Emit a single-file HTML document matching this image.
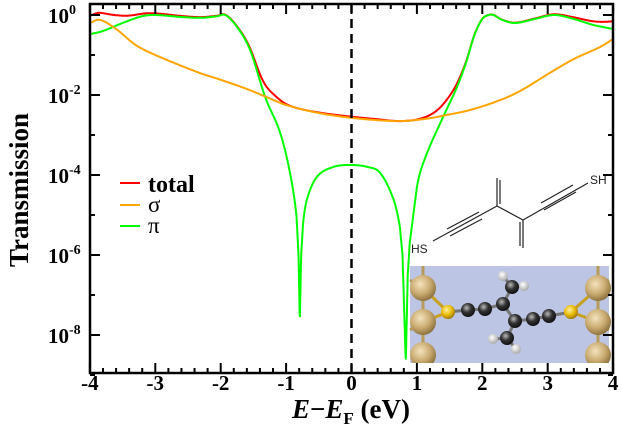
<!DOCTYPE html>
<html><head><meta charset="utf-8"><style>
html,body{margin:0;padding:0;background:#fff;}
svg{display:block;font-family:"Liberation Serif",serif;}
</style></head><body>
<svg id="s" width="621" height="440" viewBox="0 0 621 440" xmlns="http://www.w3.org/2000/svg">
<defs>
<radialGradient id="au" cx="40%" cy="35%" r="65%"><stop offset="0" stop-color="#f3e3bd"/><stop offset="0.6" stop-color="#c9aa70"/><stop offset="1" stop-color="#8f7440"/></radialGradient>
<radialGradient id="su" cx="40%" cy="35%" r="65%"><stop offset="0" stop-color="#fff2a0"/><stop offset="0.6" stop-color="#e7b800"/><stop offset="1" stop-color="#a07800"/></radialGradient>
<radialGradient id="cc" cx="40%" cy="35%" r="65%"><stop offset="0" stop-color="#bbb"/><stop offset="0.5" stop-color="#333"/><stop offset="1" stop-color="#111"/></radialGradient>
<radialGradient id="hh" cx="40%" cy="35%" r="65%"><stop offset="0" stop-color="#fff"/><stop offset="1" stop-color="#aaa"/></radialGradient>
</defs>
<g id="curves"></g>
<line x1="351.5" y1="4" x2="351.5" y2="373" stroke="#000" stroke-width="2.5" stroke-dasharray="9,6"/>
<rect x="410" y="266" width="199" height="97" fill="#bcc5e3"/>
<g stroke="#b89a5a" stroke-width="3">
<line x1="423" y1="266" x2="423" y2="363"/><line x1="598" y1="266" x2="598" y2="363"/>
<line x1="410" y1="280" x2="423" y2="288"/><line x1="410" y1="330" x2="423" y2="322"/>
<line x1="609" y1="280" x2="598" y2="288"/><line x1="609" y1="330" x2="598" y2="322"/>
</g>
<g stroke="#c8a020" stroke-width="3"><line x1="423" y1="288" x2="448" y2="312"/><line x1="423" y1="322" x2="448" y2="312"/><line x1="598" y1="288" x2="571" y2="312"/><line x1="598" y1="322" x2="571" y2="312"/></g>
<g stroke="#777" stroke-width="3"><polyline fill="none" points="448,312 468,310 485,309 503,304 515,321 533,319 549,316 571,312"/><line x1="503" y1="304" x2="512" y2="287"/><line x1="515" y1="321" x2="507" y2="338"/><line x1="512" y1="287" x2="503" y2="276"/><line x1="512" y1="287" x2="524" y2="286"/><line x1="507" y1="338" x2="493" y2="339"/><line x1="507" y1="338" x2="516" y2="349"/></g>
<g fill="url(#au)"><circle cx="423" cy="288" r="13"/><circle cx="423" cy="322" r="13"/><circle cx="423" cy="355" r="13"/><circle cx="598" cy="288" r="13"/><circle cx="598" cy="322" r="13"/><circle cx="598" cy="355" r="13"/></g>
<rect x="398" y="363" width="216" height="10" fill="#fff"/>
<g fill="url(#hh)"><circle cx="503" cy="276" r="5"/><circle cx="524" cy="286" r="5"/><circle cx="493" cy="339" r="5"/><circle cx="516" cy="349" r="5"/></g>
<g fill="url(#cc)"><circle cx="468" cy="310" r="7"/><circle cx="485" cy="309" r="7"/><circle cx="503" cy="304" r="7"/><circle cx="512" cy="287" r="7"/><circle cx="515" cy="321" r="7"/><circle cx="507" cy="338" r="7"/><circle cx="533" cy="319" r="7"/><circle cx="549" cy="316" r="7"/></g>
<g fill="url(#su)"><circle cx="448" cy="312" r="7"/><circle cx="571" cy="312" r="7"/></g>
<g stroke="#222" stroke-width="1.2" fill="none">
<line x1="433" y1="241" x2="497" y2="206"/><line x1="447" y1="229" x2="479" y2="212"/><line x1="450" y1="236" x2="482" y2="219"/>
<line x1="497" y1="206" x2="497" y2="178"/><line x1="500" y1="204" x2="500" y2="180"/>
<line x1="497" y1="206" x2="523" y2="220"/>
<line x1="523" y1="220" x2="523" y2="248"/><line x1="520" y1="222" x2="520" y2="246"/>
<line x1="523" y1="220" x2="588" y2="183"/><line x1="541" y1="203" x2="573" y2="185"/><line x1="544" y1="210" x2="576" y2="192"/>
</g>
<g font-family="Liberation Sans,sans-serif" font-size="12" fill="#222"><text x="411" y="253">HS</text><text x="590" y="184">SH</text></g>
<rect x="90" y="4" width="523" height="369" fill="none" stroke="#000" stroke-width="2.5"/>
<g id="ticks" stroke="#000" stroke-width="2"></g>
<g font-weight="bold" font-size="21" text-anchor="middle" id="xl"></g>
<g font-weight="bold" font-size="21" id="yl"></g>
<line x1="120" y1="183" x2="140" y2="183" stroke="#f00" stroke-width="2"/>
<line x1="120" y1="205" x2="140" y2="205" stroke="#ffa500" stroke-width="2"/>
<line x1="120" y1="226" x2="140" y2="226" stroke="#0f0" stroke-width="2"/>
<text x="148" y="192" font-size="24" font-weight="bold">total</text>
<text x="148" y="212" font-size="23">σ</text>
<text x="148" y="233" font-size="23">π</text>
<text x="351" y="418" font-size="27" font-weight="bold" text-anchor="middle"><tspan font-style="italic">E</tspan>−<tspan font-style="italic">E</tspan><tspan font-size="17" dy="6">F</tspan><tspan dy="-6"> (eV)</tspan></text>
<text transform="translate(28,190) rotate(-90)" font-size="27" font-weight="bold" text-anchor="middle">Transmission</text>
</svg>
<script>
var NS="http://www.w3.org/2000/svg";
function X(e){return 351.5+65.4*e;}function Y(l){return 15-40*l;}
function mk(t,a,p){var el=document.createElementNS(NS,t);for(var k in a)el.setAttribute(k,a[k]);(p||document.getElementById('s')).appendChild(el);return el;}
var tk=document.getElementById('ticks');
for(var i=0;i<=40;i++){var e=-4+i*0.2,x=X(e),L=(i%5==0)?10:5;
mk('line',{x1:x,y1:373,x2:x,y2:373-L},tk);mk('line',{x1:x,y1:4,x2:x,y2:4+L},tk);}
var xl=document.getElementById('xl');
for(var v=-4;v<=4;v++){var t=mk('text',{x:X(v),y:390},xl);t.textContent=String(v);}
var yl=document.getElementById('yl');
for(var l=0;l>=-8;l-=2){var y=Y(l);mk('line',{x1:90,y1:y,x2:100,y2:y},tk);mk('line',{x1:613,y1:y,x2:603,y2:y},tk);
var t=mk('text',{x:48,y:y+8},yl);t.innerHTML='10<tspan font-size="14" dy="-9">'+l+'</tspan>';}
for(var l=-1;l>=-9;l-=2){var y=Y(l);mk('line',{x1:90,y1:y,x2:95,y2:y},tk);mk('line',{x1:613,y1:y,x2:608,y2:y},tk);}
var sig=[[-4,-0.2],[-3.85,-0.12],[-3.6,-0.35],[-3.3,-0.75],[-3,-1.0],[-2.32,-1.45],[-2,-1.62],[-1.6,-1.85],[-1.3,-2.05],[-1,-2.25],[-0.5,-2.45],[0,-2.57],[0.5,-2.64],[0.8,-2.65],[1.2,-2.58],[1.45,-2.5],[1.8,-2.38],[2.27,-2.13],[2.6,-1.88],[3.03,-1.45],[3.4,-1.1],[3.8,-0.8],[4,-0.6]];
var pi=[[-4,-0.48],[-3.8,-0.4],[-3.5,-0.2],[-3.2,-0.03],[-3,0.0],[-2.6,-0.05],[-2.3,-0.07],[-2.05,-0.03],[-1.93,0.0],[-1.75,-0.3],[-1.55,-0.875],[-1.32,-2.05],[-1.09,-2.95],[-0.94,-3.95],[-0.84,-5.05],[-0.81,-6.0],[-0.79,-7.7],[-0.77,-6.0],[-0.74,-5.2],[-0.68,-4.6],[-0.53,-4.05],[-0.28,-3.8],[0,-3.75],[0.25,-3.8],[0.44,-3.95],[0.64,-4.6],[0.74,-5.3],[0.78,-6.0],[0.83,-8.7],[0.86,-6.5],[0.89,-5.7],[1.0,-4.3],[1.12,-3.6],[1.4,-2.55],[1.6,-1.85],[1.75,-1.2],[1.88,-0.5],[2.0,-0.1],[2.1,0.0],[2.17,0.0],[2.3,-0.12],[2.5,-0.2],[2.8,-0.1],[3.1,0.0],[3.4,-0.1],[3.7,-0.25],[4,-0.35]];
function interp(P,e){for(var i=0;i<P.length-1;i++){if(e<=P[i+1][0]){var p0=P[Math.max(i-1,0)],p1=P[i],p2=P[i+1],p3=P[Math.min(i+2,P.length-1)];
var t=(e-p1[0])/(p2[0]-p1[0]);var h=p2[0]-p1[0];
if(p1[1]<-5.5||p2[1]<-5.5){return p1[1]+(p2[1]-p1[1])*t;}
var m1=(p2[1]-p0[1])/(p2[0]-p0[0]||1)*h,m2=(p3[1]-p1[1])/(p3[0]-p1[0]||1)*h;
var t2=t*t,t3=t2*t;return (2*t3-3*t2+1)*p1[1]+(t3-2*t2+t)*m1+(-2*t3+3*t2)*p2[1]+(t3-t2)*m2;}}return P[P.length-1][1];}
function path(f,c){var d='';for(var e=-4;e<=4.0001;e+=0.004){d+=(d?'L':'M')+X(e).toFixed(1)+','+Y(f(e)).toFixed(1);}
mk('path',{d:d,fill:'none',stroke:c,'stroke-width':2,'stroke-linejoin':'round'},document.getElementById('curves'));}
path(function(e){return Math.log10(Math.pow(10,interp(sig,e))+Math.pow(10,interp(pi,e)));},'#f00');
path(function(e){return interp(pi,e);},'#0f0');
path(function(e){return interp(sig,e);},'#ffa500');
</script>
</body></html>
